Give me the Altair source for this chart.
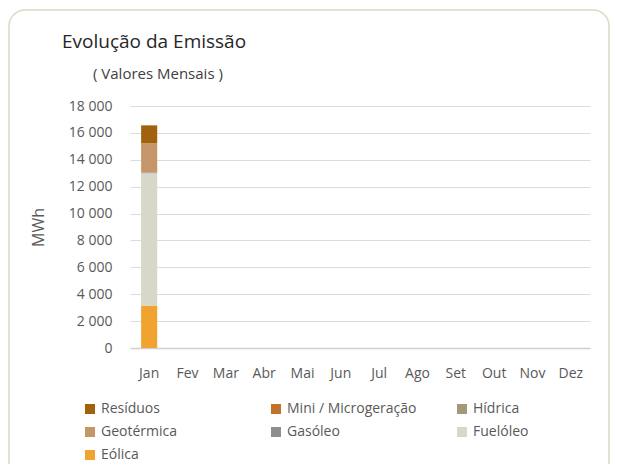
import altair as alt
import pandas as pd

meses = ["Jan", "Fev", "Mar", "Abr", "Mai", "Jun", "Jul", "Ago", "Set", "Out", "Nov", "Dez"]
fontes_legenda = ["Resíduos", "Mini / Microgeração", "Hídrica", "Geotérmica", "Gasóleo", "Fuelóleo", "Eólica"]
cores = ["#A0620C", "#C3722A", "#A39877", "#C59669", "#8E8E8E", "#D9D7C7", "#F0A32F"]

# valores de Janeiro (MWh); restantes meses sem dados
eolica = [3150, 0, 0, 0, 0, 0, 0, 0, 0, 0, 0, 0]
fuelo = [9850, 0, 0, 0, 0, 0, 0, 0, 0, 0, 0, 0]
gasoleo = [60, 0, 0, 0, 0, 0, 0, 0, 0, 0, 0, 0]
geotermica = [2170, 0, 0, 0, 0, 0, 0, 0, 0, 0, 0, 0]
hidrica = [0, 0, 0, 0, 0, 0, 0, 0, 0, 0, 0, 0]
mini = [0, 0, 0, 0, 0, 0, 0, 0, 0, 0, 0, 0]
residuos = [1330, 0, 0, 0, 0, 0, 0, 0, 0, 0, 0, 0]

titulo = "Evolução da Emissão"
subtitulo = "( Valores Mensais )"

series = {
    "Eólica": eolica,
    "Fuelóleo": fuelo,
    "Gasóleo": gasoleo,
    "Geotérmica": geotermica,
    "Hídrica": hidrica,
    "Mini / Microgeração": mini,
    "Resíduos": residuos,
}

rows = []
for ordem, (nome, vals) in enumerate(series.items()):
    for m, v in zip(meses, vals):
        rows.append({"Mes": m, "Fonte": nome, "MWh": v, "ordem": ordem})
df = pd.DataFrame(rows)

FONT = "Open Sans"
GREY = "#595959"

one = alt.Data(values=[{"a": 1}])

frame = alt.Chart(one).mark_rect(
    cornerRadius=16, fill="transparent", stroke="#DCD8C2", strokeWidth=1.5
).encode(
    x=alt.value(-121), x2=alt.value(479), y=alt.value(-96), y2=alt.value(400)
)

title_mark = alt.Chart(one).mark_text(
    text=titulo, font=FONT, fontSize=19, color="#262626", align="left", baseline="middle"
).encode(x=alt.value(-68), y=alt.value(-64))

subtitle_mark = alt.Chart(one).mark_text(
    text=subtitulo, font=FONT, fontSize=15, color="#404040", align="left", baseline="middle"
).encode(x=alt.value(-37), y=alt.value(-32))

bars = alt.Chart(df).mark_bar().encode(
    x=alt.X("Mes:N", sort=meses, scale=alt.Scale(domain=meses, paddingInner=0.58, paddingOuter=0.29),
            axis=alt.Axis(title=None, labelAngle=0, labelFontSize=14, labelColor=GREY, labelFont=FONT,
                          labelPadding=18, ticks=False, grid=False, domainColor="#D0D0D0", domainWidth=1.5)),
    y=alt.Y("MWh:Q", stack="zero", scale=alt.Scale(domain=[0, 18000]),
            axis=alt.Axis(title="MWh", values=list(range(0, 18001, 2000)), labelFontSize=14, labelColor=GREY,
                          labelFont=FONT, labelPadding=18, ticks=False, domain=False, gridColor="#DCDCDC",
                          labelExpr="replace(format(datum.value, ','), ',', ' ')",
                          titleFont=FONT, titleFontSize=16, titleFontWeight="normal", titleColor=GREY,
                          titlePadding=22)),
    color=alt.Color("Fonte:N", scale=alt.Scale(domain=fontes_legenda, range=cores),
                    legend=alt.Legend(title=None, orient="none", legendX=-47, legendY=296, columns=3,
                                      direction="horizontal", values=fontes_legenda,
                                      symbolType="square", symbolSize=100, symbolStrokeWidth=0,
                                      labelFontSize=14, labelColor=GREY, labelFont=FONT, labelOffset=4,
                                      gridAlign="all", columnPadding=38, rowPadding=9, labelLimit=300)),
    order=alt.Order("ordem:Q", sort="ascending"),
)

chart = alt.layer(frame, title_mark, subtitle_mark, bars).properties(
    width=460, height=242,
    padding={"left": 122, "top": 98, "right": 20, "bottom": 116},
    autosize=alt.AutoSizeParams(type="none"),
    view=alt.ViewBackground(stroke="transparent", strokeWidth=0),
).configure_view(stroke="transparent", strokeWidth=0).configure(background="white")

chart.save("out.html", embed_options={"renderer": "svg", "actions": False})
